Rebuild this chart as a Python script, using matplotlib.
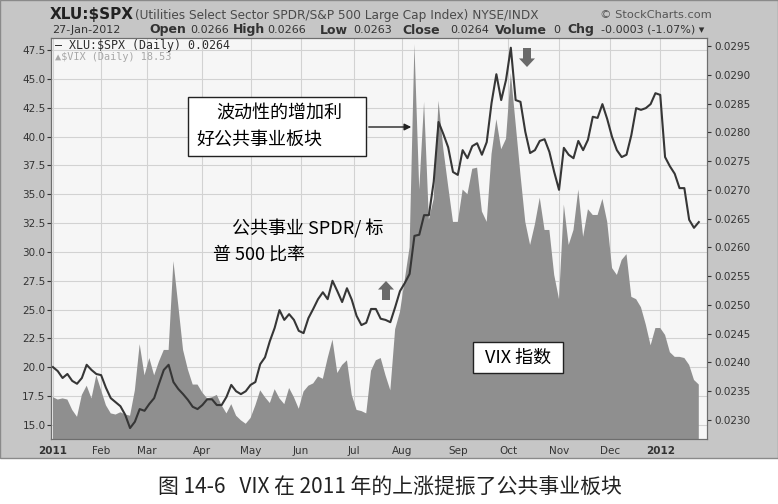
import numpy as np
import matplotlib.pyplot as plt
from matplotlib.patches import Rectangle, Polygon

W, H = 778, 504

# sampled every second trading day, 3-Jan-2011 .. 27-Jan-2012
ratio = [0.02392, 0.02385, 0.02373, 0.02380, 0.02368, 0.02363, 0.02373, 0.02396, 0.02387, 0.02380,
         0.02378, 0.02356, 0.02338, 0.02331, 0.02324, 0.02309, 0.02286, 0.02297, 0.02319, 0.02316,
         0.02328, 0.02338, 0.02363, 0.02387, 0.02396, 0.02366, 0.02354, 0.02345, 0.02335, 0.02323,
         0.02319, 0.02326, 0.02336, 0.02336, 0.02326, 0.02326, 0.02340, 0.02361, 0.02350, 0.02345,
         0.02350, 0.02361, 0.02366, 0.02397, 0.02409, 0.02437, 0.02460, 0.02491, 0.02474, 0.02484,
         0.02474, 0.02455, 0.02451, 0.02477, 0.02493, 0.02510, 0.02522, 0.02510, 0.02542, 0.02524,
         0.02505, 0.02529, 0.02509, 0.02481, 0.02465, 0.02469, 0.02493, 0.02493, 0.02476, 0.02474,
         0.02470, 0.02496, 0.02524, 0.02538, 0.02554, 0.02620, 0.02622, 0.02656, 0.02656, 0.02714,
         0.02818, 0.02797, 0.02774, 0.02731, 0.02726, 0.02769, 0.02755, 0.02776, 0.02781, 0.02761,
         0.02783, 0.02851, 0.02901, 0.02856, 0.02891, 0.02947, 0.02856, 0.02853, 0.02801, 0.02764,
         0.02769, 0.02785, 0.02788, 0.02766, 0.02731, 0.02700, 0.02773, 0.02761, 0.02755, 0.02785,
         0.02769, 0.02787, 0.02827, 0.02825, 0.02849, 0.02823, 0.02792, 0.02769, 0.02757, 0.02761,
         0.02795, 0.02842, 0.02839, 0.02842, 0.02849, 0.02868, 0.02865, 0.02757, 0.02741, 0.02728,
         0.02703, 0.02703, 0.02648, 0.02634, 0.02644]

vix = [17.4, 17.2, 17.3, 17.2, 16.3, 15.7, 17.6, 18.4, 17.3, 19.3,
       18.0, 16.7, 16.0, 15.9, 16.1, 15.9, 15.8, 18.0, 22.0, 19.3,
       20.8, 19.3, 20.5, 21.5, 21.5, 29.2, 25.4, 21.5, 19.8, 18.5,
       18.5, 17.8, 17.3, 17.4, 17.6, 16.7, 16.0, 16.8, 15.8, 15.4,
       15.1, 15.6, 16.7, 18.0, 17.4, 16.9, 18.1, 17.3, 16.8, 18.2,
       17.4, 16.4, 17.9, 18.4, 18.6, 19.2, 19.0, 20.8, 22.4, 19.5,
       20.2, 20.6, 17.6, 16.3, 16.2, 16.0, 19.7, 20.6, 20.8, 19.3,
       18.0, 23.3, 24.8, 27.6, 30.4, 48.0, 35.4, 43.0, 32.8, 34.6,
       43.1, 38.9, 35.7, 32.6, 32.6, 35.4, 35.0, 37.2, 37.3, 33.5,
       32.6, 38.5, 41.5, 38.9, 39.8, 45.5, 41.1, 36.7, 32.6, 30.6,
       32.4, 34.7, 31.9, 31.9, 28.0, 25.9, 34.1, 30.6, 31.9, 35.4,
       31.3, 33.7, 33.2, 33.2, 34.6, 32.6, 28.6, 28.0, 29.3, 29.8,
       26.1, 25.9, 25.2, 23.7, 21.9, 23.4, 23.4, 22.8, 21.3, 20.9,
       20.9, 20.8, 20.2, 18.9, 18.5]

month_idx = [0, 20, 39, 62, 82, 103, 125, 145, 168, 189, 210, 231, 252]
month_lbl = ['2011', 'Feb', 'Mar', 'Apr', 'May', 'Jun', 'Jul', 'Aug', 'Sep', 'Oct', 'Nov', 'Dec', '2012']
vix_ticks = [15.0, 17.5, 20.0, 22.5, 25.0, 27.5, 30.0, 32.5, 35.0, 37.5, 40.0, 42.5, 45.0, 47.5]
ratio_ticks = [0.0230, 0.0235, 0.0240, 0.0245, 0.0250, 0.0255, 0.0260, 0.0265, 0.0270,
               0.0275, 0.0280, 0.0285, 0.0290, 0.0295]

day = np.arange(len(vix)) * 2

CJK = ['Noto Sans CJK SC', 'DejaVu Sans']


def fx(x):
    return x / W


def fy(y):
    return 1 - y / H


fig = plt.figure(figsize=(W / 100, H / 100), dpi=100, facecolor='white')
# grey chart panel (scanned page look)
fig.add_artist(Rectangle((0, fy(458)), 1, 458 / H, transform=fig.transFigure,
                         fc='#c6c6c6', ec='#8a8a8a', lw=1, zorder=0))

ax = fig.add_axes([fx(51), fy(439), 656 / W, 401 / H])
ax.set_facecolor('#f6f6f6')
ax.fill_between(day, vix, 0, color='#8f8f8f', lw=0, zorder=2)
ax.set_xlim(-0.8, 271.4)
ax.set_ylim(13.78, 48.54)
ax.set_yticks(vix_ticks)
ax.set_yticklabels(['%.1f' % t for t in vix_ticks])
ax.set_xticks(month_idx)
ax.set_xticklabels(month_lbl)
for t in ax.get_xticklabels():
    if t.get_text() in ('2011', '2012'):
        t.set_fontweight('bold')
ax.grid(color='#d2d2d2', lw=0.8)
ax.set_axisbelow(True)
ax.tick_params(axis='y', length=3, labelsize=7.5, pad=1, colors='#333333')
ax.tick_params(axis='x', length=0, labelsize=7.5, pad=5, colors='#333333')

ax2 = ax.twinx()
ax2.plot(day, ratio, color='#363636', lw=1.5, zorder=3)
ax2.set_ylim(0.02267, 0.029639)
ax2.set_yticks(ratio_ticks)
ax2.set_yticklabels(['%.4f' % t for t in ratio_ticks])
ax2.tick_params(axis='y', length=3, labelsize=7.5, pad=2, colors='#333333')
for a in (ax, ax2):
    for s in a.spines.values():
        s.set_color('#6e6e6e')
        s.set_linewidth(0.8)

# header
fig.text(fx(50), fy(14), 'XLU:$SPX', fontsize=11, fontweight='bold', va='center', color='#222222')
fig.text(fx(135), fy(15), '(Utilities Select Sector SPDR/S&P 500 Large Cap Index) NYSE/INDX',
         fontsize=8.7, va='center', color='#4a4a4a')
fig.text(fx(600), fy(15), '© StockCharts.com', fontsize=8.2, va='center', color='#555555')
line2 = [(52, '27-Jan-2012', 'normal'), (149, 'Open', 'bold'), (190, '0.0266', 'normal'),
         (233, 'High', 'bold'), (267, '0.0266', 'normal'), (320, 'Low', 'bold'),
         (353, '0.0263', 'normal'), (402, 'Close', 'bold'), (450, '0.0264', 'normal'),
         (495, 'Volume', 'bold'), (553, '0', 'normal'), (567, 'Chg', 'bold'),
         (601, '-0.0003 (-1.07%) ▾', 'normal')]
for x, s, w in line2:
    fig.text(fx(x), fy(30), s, fontsize=9 if w == 'bold' else 8, fontweight=w,
             va='center', color='#333333')

# in-plot legend
fig.text(fx(55), fy(45), '— XLU:$SPX (Daily) 0.0264', family='DejaVu Sans Mono',
         fontsize=8.4, va='center', color='#2e2e2e')
fig.text(fx(55), fy(57), '▲$VIX (Daily) 18.53', family='DejaVu Sans Mono',
         fontsize=7.4, va='center', color='#a8a8a8')

# annotations
fig.add_artist(Rectangle((fx(188), fy(156)), 178 / W, 59 / H, transform=fig.transFigure,
                         fc='white', ec='#222222', lw=1, zorder=5))
fig.text(fx(216), fy(114), '波动性的增加利', family=CJK, fontsize=13, va='center', zorder=6)
fig.text(fx(197), fy(140), '好公共事业板块', family=CJK, fontsize=13, va='center', zorder=6)
ax.annotate('', xy=(fx(414), fy(127)), xytext=(fx(366), fy(127)),
            xycoords='figure fraction', textcoords='figure fraction',
            arrowprops=dict(arrowstyle='-|>', color='#222222', lw=1, mutation_scale=10), zorder=6)

fig.text(fx(232), fy(229), '公共事业 SPDR/ 标', family=CJK, fontsize=13, va='center', zorder=6)
fig.text(fx(213), fy(255), '普 500 比率', family=CJK, fontsize=13, va='center', zorder=6)

fig.add_artist(Rectangle((fx(473), fy(373)), 90 / W, 31 / H, transform=fig.transFigure,
                         fc='white', ec='#222222', lw=1, zorder=5))
fig.text(fx(518), fy(358), 'VIX 指数', family=CJK, fontsize=13, ha='center', va='center', zorder=6)


def block_arrow(xc, ytop, ybot, up, w=16):
    hw = w / 2
    sw = w / 4
    if up:
        mid = ytop + (ybot - ytop) * 0.45
        pts = [(xc, ytop), (xc + hw, mid), (xc + sw, mid), (xc + sw, ybot),
               (xc - sw, ybot), (xc - sw, mid), (xc - hw, mid)]
    else:
        mid = ytop + (ybot - ytop) * 0.55
        pts = [(xc, ybot), (xc + hw, mid), (xc + sw, mid), (xc + sw, ytop),
               (xc - sw, ytop), (xc - sw, mid), (xc - hw, mid)]
    fig.add_artist(Polygon([(fx(a), fy(b)) for a, b in pts], closed=True,
                           transform=fig.transFigure, fc='#6a6a6a', ec='none', zorder=6))


block_arrow(386, 281, 300, up=True)
block_arrow(527, 48, 67, up=False)

# caption
fig.text(fx(390), fy(488), '图 14-6   VIX 在 2011 年的上涨提振了公共事业板块', family=CJK,
         fontsize=15, ha='center', va='center', color='#222222')

fig.savefig('out.png', dpi=100)
